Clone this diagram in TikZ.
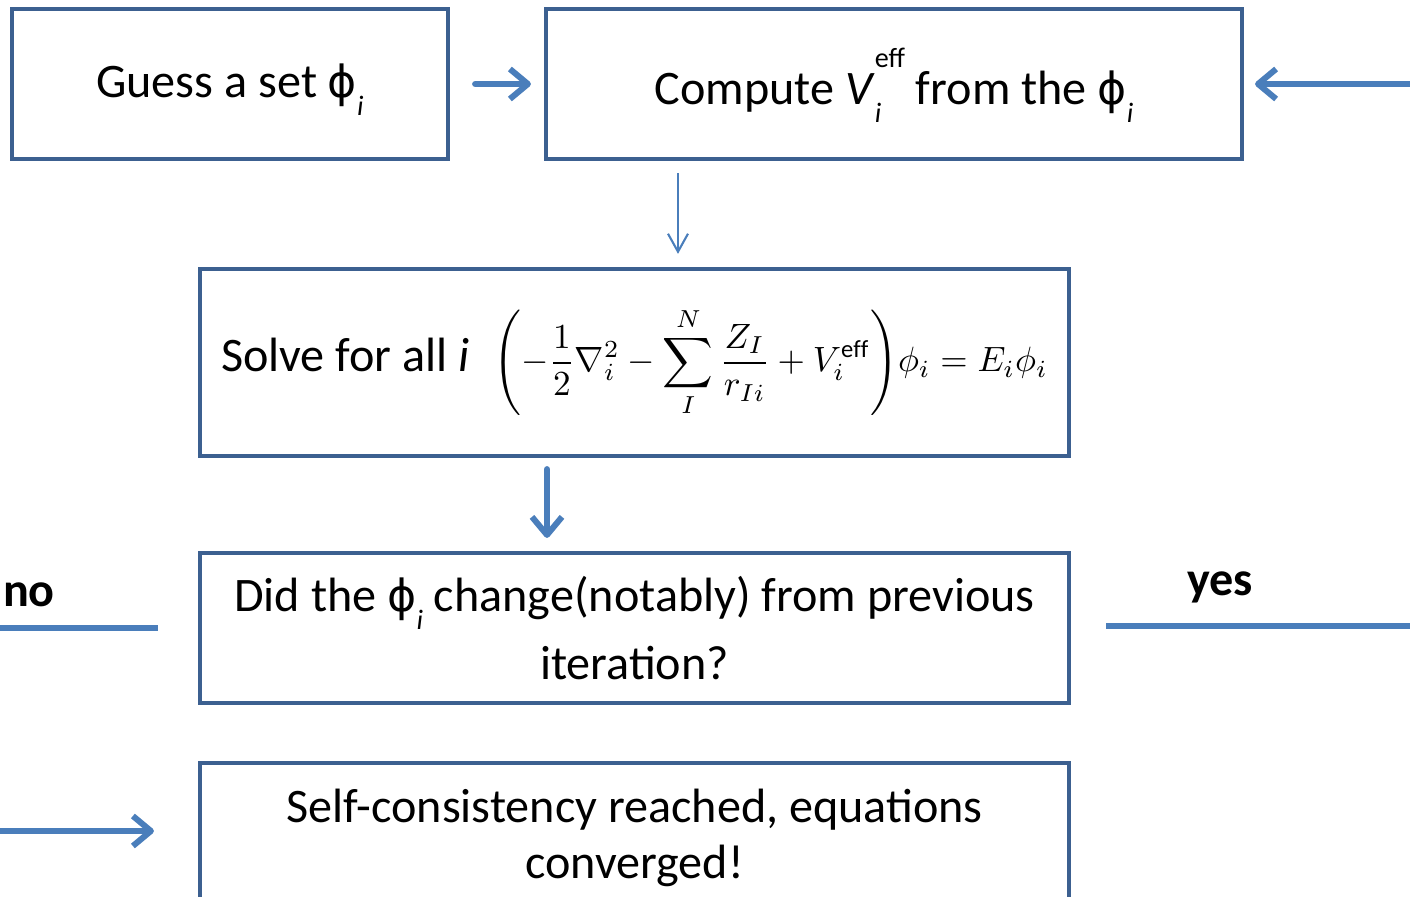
\documentclass[tikz,border=0pt]{standalone}
\usepackage{amsmath}
\usepackage{fontspec}
\setmainfont{Carlito}
\newfontfamily\phifont[Scale=0.92]{DejaVu Sans}
\usetikzlibrary{arrows.meta}

\definecolor{boxblue}{HTML}{3C6090}
\definecolor{arrblue}{HTML}{4A7EBB}

% phi with the lowered italic i, and the lowered i alone
\newcommand{\isub}{\raisebox{-0.38em}{\footnotesize\itshape i}}
\newcommand{\phii}{{\phifont ϕ}\isub}

\begin{document}
\begin{tikzpicture}[
  box/.style={draw=boxblue, line width=1.2pt, align=center, inner sep=0pt,
    font=\fontsize{13.7}{17}\selectfont},
  arrthick/.style={draw=arrblue, line width=1.7pt, line cap=round,
    -{Straight Barb[length=1.8mm,width=3mm,line join=round]}},
  arrthin/.style={draw=arrblue, line width=0.6pt,
    -{Straight Barb[length=1.8mm,width=2mm]}},
  linethick/.style={draw=arrblue, line width=1.7pt},
  lbl/.style={font=\fontsize{13.7}{17}\selectfont\bfseries}
]
  \useasboundingbox (0,0) rectangle (14.1,-8.97);
  \clip (0,0) rectangle (14.1,-8.97);

  \node[box, minimum width=4.36cm, minimum height=1.5cm,
    text height=0.4cm, text depth=0.14cm] (guess) at (2.30,-0.84)
    {Guess a set \phii};
  \node[box, minimum width=6.96cm, minimum height=1.5cm,
    text height=0.55cm, text depth=0.15cm] (compute) at (8.94,-0.84)
    {Compute \textit{V}\rlap{\isub}\raisebox{0.75em}{\footnotesize eff}\ from the \phii};
  \node[box, minimum width=8.69cm, minimum height=1.87cm] (solve) at (6.345,-3.625)
    {Solve for all \textit{i}\enspace
     {\fontsize{10}{12}\selectfont
     $\displaystyle\left(-\frac{1}{2}\nabla_i^2-\sum_I^N\frac{Z_I}{r_{Ii}}+V_i^{\mathrm{eff}}\right)\!\phi_i=E_i\phi_i$}};
  \node[box, minimum width=8.69cm, minimum height=1.5cm,
    font=\fontsize{13.7}{19.4}\selectfont] (did) at (6.345,-6.28)
    {Did the \phii\ change(notably) from previous\\ iteration?};
  \node[box, minimum width=8.69cm, minimum height=1.5cm,
    font=\fontsize{13.7}{15.8}\selectfont] (self) at (6.345,-8.38)
    {Self-consistency reached, equations\\ converged!};

  % free ends at the border
  \coordinate (back) at (14.1,-0.84);
  \coordinate (nostart) at (0,-6.28);
  \coordinate (yesend) at (14.1,-6.26);
  \coordinate (donestart) at (0,-8.31);
  \coordinate (vx) at (6.78,0);
  \coordinate (hx) at (5.47,0);

  \draw[arrthick, shorten <=0.25cm, shorten >=0.13cm] (guess) -- (compute);
  \draw[arrthick, shorten >=0.11cm] (back) -- (back -| compute.east);
  \draw[arrthin, shorten <=0.12cm, shorten >=0.13cm] (compute.south -| vx) -- (solve.north -| vx);
  \draw[arrthick, shorten <=0.11cm, shorten >=0.13cm] (solve.south -| hx) -- (did.north -| hx);
  \draw[linethick, shorten >=0.4cm] (nostart) -- (nostart -| did.west);
  \draw[linethick, shorten <=0.35cm] (yesend -| did.east) -- (yesend);
  \draw[arrthick, shorten >=0.44cm] (donestart) -- (donestart -| self.west);

  \node[lbl] (nolbl) at (0.29,-5.95) {no};
  \node[lbl] (yeslbl) at (12.2,-5.87) {yes};
\end{tikzpicture}
\end{document}
